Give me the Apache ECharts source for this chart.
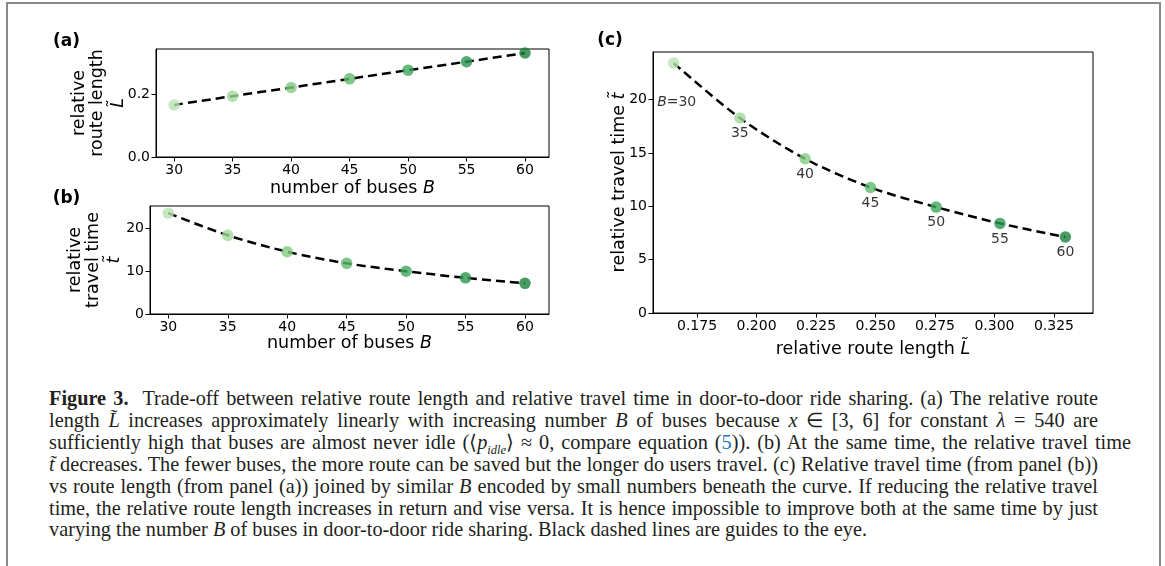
<!DOCTYPE html>
<html>
<head>
<meta charset="utf-8">
<script src="https://cdn.jsdelivr.net/npm/echarts@6/dist/echarts.min.js"></script>
<style>
body { margin: 0; background: #fff; }
#frame { position: absolute; left: 6px; top: 2px; width: 1151px; height: 580px; border: 2px solid #8a8a8a; border-bottom: none; }
#main { position: absolute; left: 0; top: 0; width: 1165px; height: 372px; }
#caption { position: absolute; left: 49px; top: 388px; font-family: "Liberation Serif", serif; font-size: 20.3px; line-height: 21.9px; color: #231f20; white-space: nowrap; }
#caption div { width: 1049px; text-align: justify; text-align-last: justify; }
#caption div.wide { width: 1082px; }
#caption div.last { text-align: left; text-align-last: left; }
#caption sub { font-size: 12.5px; line-height: 0; }
.ref { color: #1f74c6; }
</style>
</head>
<body>
<div id="frame"></div>
<div id="main"></div>
<div id="caption">
<div><b>Figure 3.</b>&nbsp; Trade-off between relative route length and relative travel time in door-to-door ride sharing. (a) The relative route</div>
<div>length <i>L̃</i> increases approximately linearly with increasing number <i>B</i> of buses because <i>x</i> ∈ [3, 6] for constant <i>λ</i> = 540 are</div>
<div class="wide">sufficiently high that buses are almost never idle (⟨<i>p<sub>idle</sub></i>⟩ ≈ 0, compare equation (<span class="ref">5</span>)). (b) At the same time, the relative travel time</div>
<div><i>t̃</i> decreases. The fewer buses, the more route can be saved but the longer do users travel. (c) Relative travel time (from panel (b))</div>
<div>vs route length (from panel (a)) joined by similar <i>B</i> encoded by small numbers beneath the curve. If reducing the relative travel</div>
<div>time, the relative route length increases in return and vise versa. It is hence impossible to improve both at the same time by just</div>
<div class="last">varying the number <i>B</i> of buses in door-to-door ride sharing. Black dashed lines are guides to the eye.</div>
</div>
<script>
// values
var buses = [30, 35, 40, 45, 50, 55, 60];
var routeLength = [0.1652, 0.1930, 0.2204, 0.2479, 0.2755, 0.3023, 0.3298];
var travelTime = [23.43, 18.28, 14.46, 11.77, 9.93, 8.40, 7.12];
var pointColors = ['#b6e2b0', '#9fd89a', '#82cb80', '#5fba6c', '#40a85b', '#2c9450', '#1b7f3f'];

// tick labels
var busTicks = [30, 35, 40, 45, 50, 55, 60];
var routeTicksA = [0.0, 0.2];
var timeTicksB = [0, 10, 20];
var routeTicksC = [0.175, 0.2, 0.225, 0.25, 0.275, 0.3, 0.325];
var timeTicksC = [0, 5, 10, 15, 20];

var chartDom = document.getElementById('main');
var myChart = echarts.init(chartDom);
var option;

var FONT = 'DejaVu Sans';

function valueAxis(idx, min, max, ticks, fmt) {
    return {
        type: 'value',
        gridIndex: idx,
        min: min,
        max: max,
        nameMoveOverlap: false,
        splitLine: { show: false },
        axisLine: { show: true, onZero: false, lineStyle: { color: '#000', width: 1 } },
        axisTick: { show: true, inside: false, length: 4.5, customValues: ticks, lineStyle: { color: '#000', width: 1 } },
        axisLabel: { customValues: ticks, formatter: fmt, color: '#000', fontSize: 14, fontFamily: FONT, margin: 6 },
        nameTextStyle: {
            color: '#000', fontSize: 17.5, fontFamily: FONT, lineHeight: 18,
            rich: {
                i: { fontStyle: 'italic', fontSize: 17.5, fontFamily: FONT, color: '#000' },
                m: { fontStyle: 'italic', fontSize: 17.5, fontFamily: FONT, color: '#000', lineHeight: 24 }
            }
        }
    };
}

function pairs(xs, ys) {
    return xs.map(function (x, i) { return [x, ys[i]]; });
}

function dots(xs, ys, withLabels) {
    return xs.map(function (x, i) {
        var item = { value: [x, ys[i]], itemStyle: { color: pointColors[i] } };
        if (withLabels) {
            item.label = {
                show: true,
                position: 'bottom',
                distance: 3,
                formatter: i == 0 ? '{i|B}=' + buses[i] : String(buses[i])
            };
            if (i == 0) item.label.offset = [3, 24];
        }
        return item;
    });
}

var dash = { color: '#000', width: 2.5, type: [9, 5] };

var xa = valueAxis(0, 28.45, 62.05, busTicks, function (v) { return String(v); });
xa.name = 'number of buses {i|B}'; xa.nameLocation = 'middle'; xa.nameGap = 22;
var ya = valueAxis(0, 0, 0.3426, routeTicksA, function (v) { return v.toFixed(1); });
ya.name = 'relative\nroute length\n{m|L̃}'; ya.nameLocation = 'middle'; ya.nameRotate = 90; ya.nameGap = 26;

var xb = valueAxis(1, 28.46, 62.02, busTicks, function (v) { return String(v); });
xb.name = 'number of buses {i|B}'; xb.nameLocation = 'middle'; xb.nameGap = 20;
var yb = valueAxis(1, 0, 25.09, timeTicksB, function (v) { return String(v); });
yb.name = 'relative\ntravel time\n{m|t̃}'; yb.nameLocation = 'middle'; yb.nameRotate = 90; yb.nameGap = 24;

var xc = valueAxis(2, 0.1565, 0.3414, routeTicksC, function (v) { return v.toFixed(3); });
xc.name = 'relative route length {i|L̃}'; xc.nameLocation = 'middle'; xc.nameGap = 27;
var yc = valueAxis(2, 0, 24.47, timeTicksC, function (v) { return String(v); });
yc.name = 'relative travel time {i|t̃}'; yc.nameLocation = 'middle'; yc.nameRotate = 90; yc.nameGap = 25;

var gridStyle = { show: true, borderColor: '#000', borderWidth: 1, backgroundColor: 'transparent', containLabel: false, outerBoundsMode: 'none' };

option = {
    animation: false,
    backgroundColor: 'transparent',
    textStyle: { fontFamily: FONT },
    grid: [
        Object.assign({ left: 156, top: 49, width: 393, height: 108 }, gridStyle),
        Object.assign({ left: 150, top: 206, width: 399, height: 108 }, gridStyle),
        Object.assign({ left: 653, top: 52, width: 440, height: 261 }, gridStyle)
    ],
    xAxis: [xa, xb, xc],
    yAxis: [ya, yb, yc],
    graphic: [
        { type: 'text', x: 66.5, y: 41.5, style: { text: '(a)', font: 'bold 17px DejaVu Sans', fill: '#000', textAlign: 'center', textVerticalAlign: 'middle' } },
        { type: 'text', x: 66.5, y: 198.5, style: { text: '(b)', font: 'bold 17px DejaVu Sans', fill: '#000', textAlign: 'center', textVerticalAlign: 'middle' } },
        { type: 'text', x: 610, y: 41, style: { text: '(c)', font: 'bold 17px DejaVu Sans', fill: '#000', textAlign: 'center', textVerticalAlign: 'middle' } }
    ],
    series: [
        { type: 'line', xAxisIndex: 0, yAxisIndex: 0, data: pairs(buses, routeLength), showSymbol: false, smooth: 0.3, lineStyle: dash, z: 2 },
        { type: 'scatter', xAxisIndex: 0, yAxisIndex: 0, data: dots(buses, routeLength, false), symbolSize: 11.5, z: 3 },
        { type: 'line', xAxisIndex: 1, yAxisIndex: 1, data: pairs(buses, travelTime), showSymbol: false, smooth: 0.3, lineStyle: dash, z: 2 },
        { type: 'scatter', xAxisIndex: 1, yAxisIndex: 1, data: dots(buses, travelTime, false), symbolSize: 11.5, z: 3 },
        { type: 'line', xAxisIndex: 2, yAxisIndex: 2, data: pairs(routeLength, travelTime), showSymbol: false, smooth: 0.3, lineStyle: dash, z: 2 },
        {
            type: 'scatter', xAxisIndex: 2, yAxisIndex: 2, data: dots(routeLength, travelTime, true), symbolSize: 11.5, z: 3,
            label: {
                color: '#000', fontSize: 14, fontFamily: FONT,
                rich: { i: { fontStyle: 'italic', fontSize: 14, fontFamily: FONT, color: '#000' } }
            }
        }
    ]
};

option && myChart.setOption(option);
</script>
</body>
</html>
